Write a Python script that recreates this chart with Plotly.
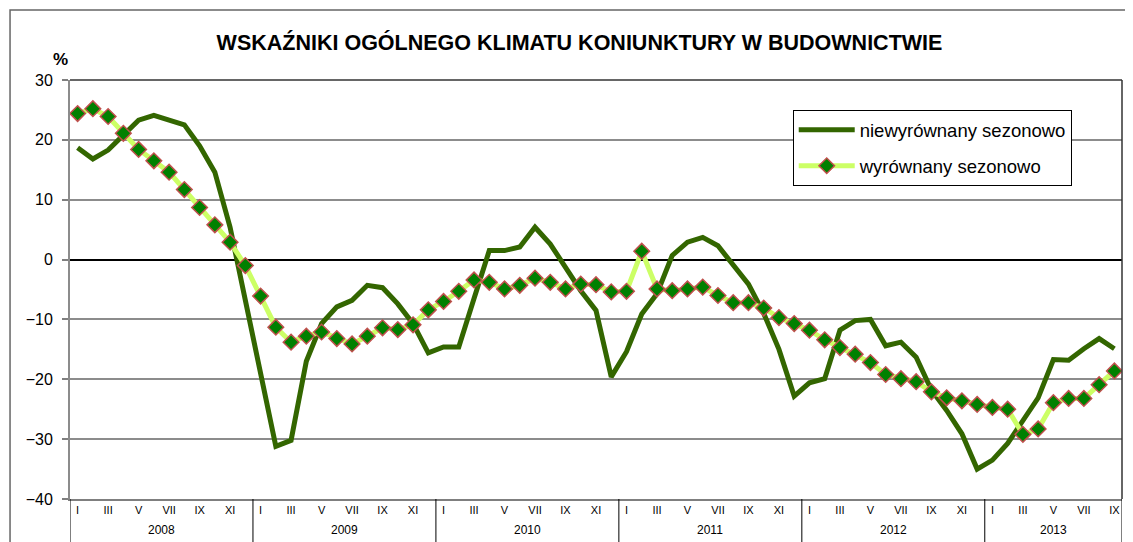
import plotly.graph_objects as go

# months Jan 2008 .. Sep 2013
years = [2008, 2009, 2010, 2011, 2012, 2013]
month_labels = ["I", "III", "V", "VII", "IX", "XI"]

niewyrownany = [
    18.7, 16.8, 18.3, 20.9, 23.3, 24.1, 23.3, 22.5, 19.0, 14.6, 5.4, -7.0,
    -19.5, -31.2, -30.2, -17.0, -10.7, -7.9, -6.8, -4.3, -4.7, -7.4, -10.7, -15.6,
    -14.6, -14.6, -6.5, 1.5, 1.5, 2.1, 5.4, 2.6, -1.3, -5.2, -8.5, -19.6,
    -15.4, -9.1, -5.7, 0.7, 2.9, 3.7, 2.3, -1.0, -4.1, -9.0, -15.0, -22.8,
    -20.6, -19.9, -11.8, -10.2, -10.0, -14.4, -13.8, -16.3, -21.8, -25.2, -29.1, -35.0,
    -33.5, -30.7, -26.8, -23.1, -16.7, -16.8, -14.9, -13.2, -14.9,
]
wyrownany = [
    24.4, 25.2, 23.9, 21.1, 18.4, 16.5, 14.6, 11.7, 8.7, 5.8, 2.9, -1.0,
    -6.1, -11.3, -13.8, -12.8, -12.1, -13.2, -14.1, -12.8, -11.4, -11.7, -10.9, -8.4,
    -7.0, -5.3, -3.4, -3.8, -4.9, -4.3, -3.1, -3.8, -4.9, -4.1, -4.2, -5.4,
    -5.3, 1.4, -4.9, -5.2, -4.9, -4.6, -6.0, -7.2, -7.2, -8.1, -9.7, -10.7,
    -11.8, -13.4, -14.7, -15.8, -17.2, -19.2, -19.9, -20.4, -22.1, -23.1, -23.6, -24.2,
    -24.7, -25.0, -29.2, -28.3, -23.9, -23.2, -23.2, -20.9, -18.6,
]

FONT = "Liberation Sans, Arial, sans-serif"
n = len(niewyrownany)
x = list(range(n))

fig = go.Figure()
fig.add_trace(go.Scatter(
    x=x, y=niewyrownany, mode="lines", name="niewyrównany sezonowo",
    line=dict(color="#336600", width=5), legendgroup="a",
))
fig.add_trace(go.Scatter(
    x=x, y=wyrownany, mode="lines+markers", name="wyrównany sezonowo",
    line=dict(color="#CCFF66", width=5),
    marker=dict(symbol="diamond", size=12, color="#008000", line=dict(color="#C0504D", width=1.5)),
    legendgroup="b",
))

# month ticks every second month, year labels and dividers below
tickvals = [i for i in x if i % 2 == 0]
ticktext = [month_labels[(i % 12) // 2] for i in tickvals]
fig.update_xaxes(
    range=[-0.5, n - 0.5], tickvals=tickvals, ticktext=ticktext, ticks="",
    tickfont=dict(size=11, color="black", family=FONT),
    showgrid=False, zeroline=False, showline=True, linecolor="#7f7f7f", linewidth=2,
)
fig.update_yaxes(
    range=[-40, 30], dtick=10, ticks="outside", ticklen=6, tickcolor="#7f7f7f", tickwidth=1.5,
    ticklabelstandoff=6,
    tickfont=dict(size=16, color="black", family=FONT),
    showgrid=True, gridcolor="#8c8c8c", gridwidth=1.5,
    zeroline=True, zerolinecolor="black", zerolinewidth=1.5,
    showline=True, linecolor="#8c8c8c", linewidth=2,
)

shapes = []
for k in range(len(years)):
    shapes.append(dict(type="line", xref="x", yref="paper", x0=12 * k - 0.5, x1=12 * k - 0.5,
                       y0=0, y1=-0.12, line=dict(color="black", width=1)))
shapes.append(dict(type="line", xref="x", yref="paper", x0=n - 0.5, x1=n - 0.5,
                   y0=0, y1=-0.12, line=dict(color="black", width=1)))
# plot-area border (top and right)
shapes.append(dict(type="line", xref="paper", yref="paper", x0=0, x1=1, y0=1, y1=1,
                   line=dict(color="#333333", width=1.5)))
shapes.append(dict(type="line", xref="paper", yref="paper", x0=1, x1=1, y0=0, y1=1,
                   line=dict(color="#333333", width=1.5)))
# outer chart border
shapes.append(dict(type="rect", xref="paper", yref="paper", x0=-0.057, x1=1.2, y0=-0.3, y1=1.167,
                   line=dict(color="#666666", width=1.5)))

annotations = []
for k, yr in enumerate(years):
    last = min(12 * k + 11, n - 1)
    annotations.append(dict(x=(12 * k + last) / 2, y=-0.074, xref="x", yref="paper",
                            text=str(yr), showarrow=False, yanchor="middle",
                            font=dict(size=12, color="black", family=FONT)))
annotations.append(dict(x=0, y=1.048, xref="paper", yref="paper", text="<b>%</b>",
                        showarrow=False, xanchor="right", yanchor="middle",
                        font=dict(size=17, color="black", family=FONT)))

# the page body adds an 8px offset, so the figure is 8px smaller
fig.update_layout(
    width=1125, height=534,
    margin=dict(l=62, r=11, t=72, b=43),
    paper_bgcolor="white", plot_bgcolor="white",
    title=dict(text="<b>WSKAŹNIKI OGÓLNEGO KLIMATU KONIUNKTURY W BUDOWNICTWIE</b>",
               x=0.508, xanchor="center", y=0.935, yanchor="middle",
               font=dict(size=21.5, color="black", family=FONT)),
    legend=dict(x=0.687, y=0.928, xanchor="left", yanchor="top",
                bgcolor="white", bordercolor="black", borderwidth=1,
                font=dict(size=18.5, color="black", family=FONT),
                itemwidth=56, tracegroupgap=9),
    shapes=shapes, annotations=annotations,
    showlegend=True,
)

fig.write_html("out.html")
